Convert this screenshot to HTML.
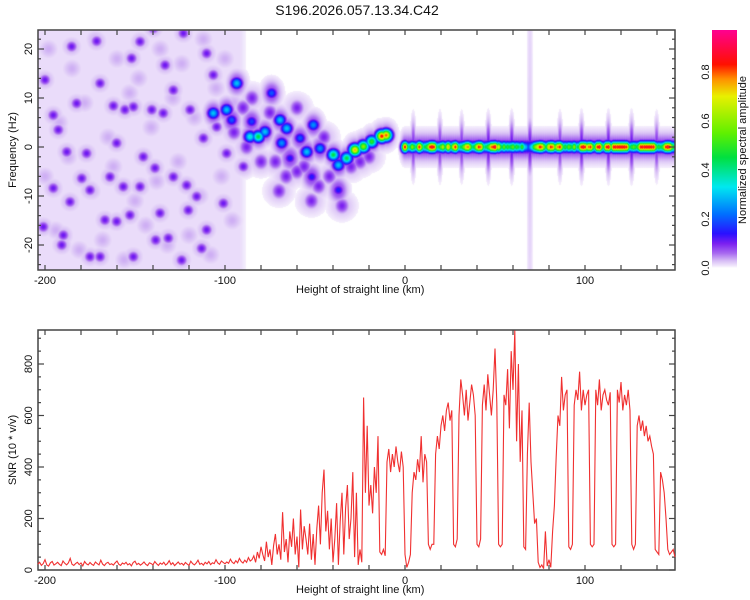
<!DOCTYPE html>
<html><head><meta charset="utf-8">
<style>
html,body{margin:0;padding:0;background:#fff;}
#wrap{position:relative;width:750px;height:600px;overflow:hidden;font-family:"Liberation Sans",sans-serif;}
#heat{position:absolute;left:38px;top:30px;}
#svg{position:absolute;left:0;top:0;}
text{font-family:"Liberation Sans",sans-serif;fill:#111;}
</style></head>
<body>
<div id="wrap">
<canvas id="heat" width="637" height="240"></canvas>
<svg id="svg" width="750" height="600" xmlns="http://www.w3.org/2000/svg">
  <defs><linearGradient id="cbgrad" x1="0" y1="1" x2="0" y2="0"></linearGradient></defs>
  <text x="357" y="15" font-size="14" text-anchor="middle">S196.2026.057.13.34.C42</text>
  <g id="topAxes"></g>
  <g id="botAxes"></g>
  <path id="snrLine" fill="none" stroke="#f03030" stroke-width="1.1"></path>
  <rect x="712" y="30" width="25" height="238" fill="url(#cbgrad)"></rect>
  <g id="cbTicks"></g>
  <text x="296" y="293" font-size="11" text-anchor="start">Height of straight line (km)</text>
  <text x="296" y="593" font-size="11" text-anchor="start">Height of straight line (km)</text>
  <text transform="translate(16,150) rotate(-90)" font-size="11" text-anchor="middle">Frequency (Hz)</text>
  <text transform="translate(16,450) rotate(-90)" font-size="11" text-anchor="middle">SNR (10 * v/v)</text>
  <text transform="translate(746,150) rotate(-90)" font-size="11" text-anchor="middle">Normalized spectral amplitude</text>
</svg>
</div>
<script>
const snrStart = -204;
const snrValues = [
22,30,18,25,40,20,15,28,33,19,
24,30,22,17,35,26,20,28,45,22,
18,25,30,21,27,16,33,24,20,29,
22,18,31,25,20,38,23,17,26,30,
21,24,19,28,35,22,18,27,23,30,
20,25,16,29,34,21,26,19,24,31,
22,17,28,25,20,33,24,18,27,22,
30,19,25,36,21,28,17,24,31,22,
26,19,29,23,18,34,25,20,27,38,
22,26,19,30,24,33,21,28,25,40,
27,22,35,29,24,31,26,42,30,25,
36,28,45,33,27,38,30,48,35,40,
55,30,70,45,90,60,35,110,50,80,
20,95,140,60,100,40,225,70,120,30,
150,90,200,60,130,10,235,80,170,120,
60,180,40,140,20,160,250,100,300,390,
150,230,80,200,30,120,260,20,190,300,
60,240,330,120,200,380,50,300,20,80,
30,670,300,560,250,330,220,400,300,520,
70,60,80,55,420,470,380,450,400,480,
420,380,460,400,60,10,30,60,300,380,
350,430,380,520,340,450,420,100,80,100,
100,450,520,470,560,600,540,620,650,580,
620,100,90,120,600,740,680,600,700,580,
650,720,680,600,100,90,120,640,720,620,
760,680,600,700,860,650,100,90,100,680,
640,780,550,850,700,930,500,800,420,620,
90,80,450,650,420,300,180,200,30,10,
20,5,150,15,40,10,150,250,440,600,
560,750,620,680,700,90,80,100,640,700,
660,770,620,700,640,680,700,100,90,100,
700,640,740,620,680,700,660,640,690,100,
90,100,700,650,730,620,680,640,700,620,
100,80,100,560,600,540,580,520,560,500,
520,480,450,80,70,60,380,350,300,200,
80,60,70,80,50];

const blobKm  = [-106.5,-99.1,-93.5,-96.3,-85.2,-86.1,-81.5,-77.8,-74.1,-69.4,-65.7,-68.5,-63.9,-58.3,-54.6,-50.9,-51.8,-47.2,-39.8,-37,-37,-32.4,-27.8,-23.1,-18.5,-12.9,-10.5];
const blobHz  = [6.9,7.6,13.0,5.5,5.2,2.1,2.1,3.1,11,5.5,3.8,0.8,-2.3,1.8,-1.0,4.5,-6.1,-0.3,-1.6,-3.7,-8.8,-2.3,-0.6,0.1,1.1,2.2,2.4];
const blobAmp = [0.3,0.3,0.3,0.2,0.18,0.35,0.45,0.3,0.2,0.3,0.3,0.25,0.15,0.2,0.3,0.25,0.15,0.25,0.45,0.3,0.15,0.45,0.75,0.6,0.5,0.85,0.8];

// purple haze patches around the signal (km, Hz)
const hazeKm = [-90,-88,-80,-72,-66,-60,-56,-48,-45,-42,-35,-30,-25,-20,-60,-75,-85,-95,-70,-52];
const hazeHz = [8,0,-3,-3,-6,-5,-4,-8,2,-6,-12,-4,-3,-2,8,7,10,3,-9,-11];

const noiseKm = [-200.9,-189.8,-190.7,-175,-162,-155.6,-171.3,-186.1,-179.6,-166.7,-160.2,-152.8,-145.4,-138.9,-136.1,-131.5,-124.1,-113,-121.3,-115.7,-112,-106.5,-104.6,-133.3,-134.3,-140.7,-147.2,-151.9,-160.2,-169.4,-185.2,-195.4,-192.6,-176.9,-200,-195.4,-150.9,-139.8,-123.1,-110.2,-128.7,-169.4,-182.4,-163.9,-120.4,-100.9,-187.9,-147.2,-128.7,-119.4,-150.9,-156.5,-175,-138.5,-110.2,-99.1,-89.8];
const noiseHz = [-16.3,-18.0,-20.0,-8.8,8.4,7.6,21.6,-11.2,-6.4,-14.9,-15.2,-13.9,-2.0,-4.3,-13.5,-18.6,-23.1,-20.7,-7.8,-10.1,1.8,14.7,4.1,16.7,6.9,7.6,21.5,18.1,0.8,13.0,20.5,-8.4,3.5,-1.3,13.7,6.5,-22.4,24.2,23.2,19.1,-6.1,-22.4,8.9,-6.1,-12.9,-11.5,-1.0,-8.1,11.6,7.6,8.2,-8.1,-22.4,-19.0,-16.9,-1.3,-4.0];
const mottleKm = [-198,-185,-172,-160,-148,-136,-124,-112,-100,-192,-178,-165,-153,-141,-129,-117,-105,-95,-200,-187,-174,-162,-150,-138,-126,-114,-102,-194,-181,-168,-156,-144,-132,-120,-108,-96];
const mottleHz = [20,16,22,18,14,20,17,22,18,5,9,2,11,4,10,6,12,9,-6,-2,-9,-4,-11,-7,-3,-10,-6,-17,-21,-19,-23,-16,-20,-18,-22,-15];

const bandStart = 0;
const bandAmp = [
.85,.5,.4,.45,.6,.5,.4,.5,.85,.6,
.4,.45,.5,.6,.85,.9,.85,.5,.4,.45,
.55,.65,.5,.45,.75,.5,.4,.7,.85,.5,
.4,.45,.5,.6,.75,.8,.6,.4,.45,.5,
.7,.85,.8,.5,.4,.45,.5,.6,.8,.85,
.9,.6,.7,.5,.4,.55,.45,.5,.45,.5,
.55,.45,.5,.45,.4,.5,.35,.3,.15,.2,
.3,.4,.55,.65,.75,.85,.8,.6,.45,.5,
.75,.85,.8,.5,.6,.8,.85,.6,.4,.5,
.45,.55,.5,.45,.6,.4,.45,.5,.85,.9,
.85,.5,.8,.85,.6,.45,.5,.85,.9,.6,
.45,.5,.85,.9,.6,.45,.88,.88,.88,.88,
.88,.88,.88,.85,.5,.45,.5,.55,.5,.45,
.6,.88,.88,.88,.88,.88,.88,.88,.88,.6,
.45,.5,.45,.5,.6,.85,.9,.85,.6,.5,.45];
const bandHz = 0;

const streakKm  = [4.6,19.4,31.5,46.3,59.3,69.4,86.1,98.1,113,125.9,139.8];
const streakAmp = [0.1,0.1,0.1,0.12,0.12,0.12,0.1,0.12,0.12,0.12,0.1];

const cmapStops = [0,0.01,0.03,0.06,0.1,0.14,0.22,0.33,0.45,0.55,0.7,0.77,0.83,0.97,1];
const cmapColors = ['#ffffff','#efe4fb','#d6bcf5','#a86af0','#7a1ff0','#2a10ff','#0070ff','#00e8f0','#00e040','#60f000','#e8f000','#ff9000','#ff1000','#ff0090','#ff0090'];
const cbTickVals = [0.0,0.2,0.4,0.6,0.8];
const topXTicks = [-200,-100,0,100];
const topYTicks = [-20,-10,0,10,20];
const botYTicks = [0,200,400,600,800];

const xS = km => 405 + 1.8*km;
const yTop = hz => 147 - 4.9*hz;
const yBot = v => 570 - 0.2575*v;
const NS='http://www.w3.org/2000/svg';
function el(tag, attrs, parent){const e=document.createElementNS(NS,tag);for(const k in attrs)e.setAttribute(k,attrs[k]);parent.appendChild(e);return e;}
function hex(c){return [parseInt(c.substr(1,2),16),parseInt(c.substr(3,2),16),parseInt(c.substr(5,2),16)];}
const cmapRGB = cmapColors.map(hex);
function cmap(v){
  if(v<=0) return cmapRGB[0];
  if(v>=1) return cmapRGB[cmapRGB.length-1];
  for(let i=1;i<cmapStops.length;i++){ if(v<=cmapStops[i]){const t=(v-cmapStops[i-1])/(cmapStops[i]-cmapStops[i-1]);const a=cmapRGB[i-1],b=cmapRGB[i];return [a[0]+(b[0]-a[0])*t,a[1]+(b[1]-a[1])*t,a[2]+(b[2]-a[2])*t];}}
  return cmapRGB[cmapRGB.length-1];
}

const W=637,H=240,OX=38,OY=30;
const field=new Float32Array(W*H);
for(let j=0;j<H;j++)for(let i=0;i<W;i++){
  const km=(OX+i+0.5-405)/1.8;
  let b=0; if(km<-92) b=0.014; else if(km<-86) b=0.014*(-86-km)/6;
  field[j*W+i]=b;
}
function splat(cx,cy,sx,sy,amp){
  const x0=Math.max(0,Math.floor(cx-OX-3*sx)),x1=Math.min(W-1,Math.ceil(cx-OX+3*sx));
  const y0=Math.max(0,Math.floor(cy-OY-3*sy)),y1=Math.min(H-1,Math.ceil(cy-OY+3*sy));
  for(let j=y0;j<=y1;j++){const dy=(OY+j+0.5-cy)/sy;for(let i=x0;i<=x1;i++){const dx=(OX+i+0.5-cx)/sx;const v=amp*Math.exp(-0.5*(dx*dx+dy*dy));const k=j*W+i;if(v>field[k])field[k]=v;}}
}
for(let n=0;n<mottleKm.length;n++){splat(xS(mottleKm[n]),yTop(mottleHz[n]),7,7,0.035);}
for(let n=0;n<noiseKm.length;n++){splat(xS(noiseKm[n]),yTop(noiseHz[n]),7,7,0.04);splat(xS(noiseKm[n]),yTop(noiseHz[n]),3.5,3.5,0.11);}
for(let n=0;n<hazeKm.length;n++){splat(xS(hazeKm[n]),yTop(hazeHz[n]),9,9,0.035);splat(xS(hazeKm[n]),yTop(hazeHz[n]),4.5,5,0.1);}
splat(xS(69.4),yTop(0),2,200,0.02);
for(let n=0;n<streakKm.length;n++){splat(xS(streakKm[n]),yTop(bandHz),1.6,16,streakAmp[n]);}
for(let n=0;n<blobKm.length;n++){splat(xS(blobKm[n]),yTop(blobHz[n]),6,8,0.09);splat(xS(blobKm[n]),yTop(blobHz[n]),3.8,3.8,blobAmp[n]);}
for(let n=0;n<bandAmp.length;n++){const cx=xS(bandStart+n);splat(cx,yTop(bandHz),3,9,0.09);splat(cx,yTop(bandHz),2.5,5,0.2);splat(cx,yTop(bandHz),2.4,3.4,bandAmp[n]);}
const ctx=document.getElementById('heat').getContext('2d');
const img=ctx.createImageData(W,H);
for(let k=0;k<W*H;k++){const v=field[k];let c=[255,255,255];if(v>0.006)c=cmap(v);img.data[4*k]=c[0];img.data[4*k+1]=c[1];img.data[4*k+2]=c[2];img.data[4*k+3]=255;}
ctx.putImageData(img,0,0);

function axes(g,T,B,yTicksMajor,yScale,yMinorStep,yMin,yMax,prefix){
  const fr=el('rect',{x:38,y:T,width:637,height:B-T,fill:'none',stroke:'#444','stroke-width':1.5},g);
  
  
  for(let km=-200;km<=140;km+=20){
    const x=xS(km);
    const t1=el('line',{x1:x,y1:T,x2:x,y2:T+5,stroke:'#444','stroke-width':1.2},g);
    
    
    const t2=el('line',{x1:x,y1:B,x2:x,y2:B-5,stroke:'#444','stroke-width':1.2},g);
    
    
  }
  topXTicks.forEach(v=>{
    const t=el('text',{x:xS(v),y:B+14,'font-size':11,'text-anchor':'middle'},g);t.textContent=String(v);
    
    
  });
  for(let v=yMin;v<=yMax+1e-9;v+=yMinorStep){
    const y=yScale(v); if(y<T-0.5||y>B+0.5) continue;
    const major=yTicksMajor.indexOf(Math.round(v))>=0;
    const len=major?6:3;
    const a=el('line',{x1:38,y1:y,x2:38+len,y2:y,stroke:'#444','stroke-width':1.2},g);
    
    
    const b=el('line',{x1:675,y1:y,x2:675-len,y2:y,stroke:'#444','stroke-width':1.2},g);
    
    
  }
  yTicksMajor.forEach(v=>{
    const y=yScale(v);
    const t=el('text',{transform:'translate(32,'+y+') rotate(-90)','font-size':11,'text-anchor':'middle'},g);t.textContent=String(v);
    
    
  });
}
axes(document.getElementById('topAxes'),30,270,topYTicks,yTop,2,-24,24,'spectrogram');
axes(document.getElementById('botAxes'),330,570,botYTicks,yBot,50,0,900,'snr');

let d='';
snrValues.forEach((v,i)=>{d+=(i?'L':'M')+xS(snrStart+i).toFixed(1)+','+yBot(Math.min(v,932)).toFixed(1);});
document.getElementById('snrLine').setAttribute('d',d);

const grad=document.getElementById('cbgrad');
const cbMax=0.97;
cmapStops.forEach((s,i)=>{if(s>cbMax)return;el('stop',{offset:(s/cbMax*100)+'%','stop-color':cmapColors[i]},grad);});
const cbT=document.getElementById('cbTicks');
cbTickVals.forEach(v=>{
  const y=268-v*245;
  const t=el('text',{transform:'translate(709,'+y+') rotate(-90)','font-size':11,'text-anchor':'middle'},cbT);t.textContent=v.toFixed(1);
  
  
});
</script>
</body></html>
